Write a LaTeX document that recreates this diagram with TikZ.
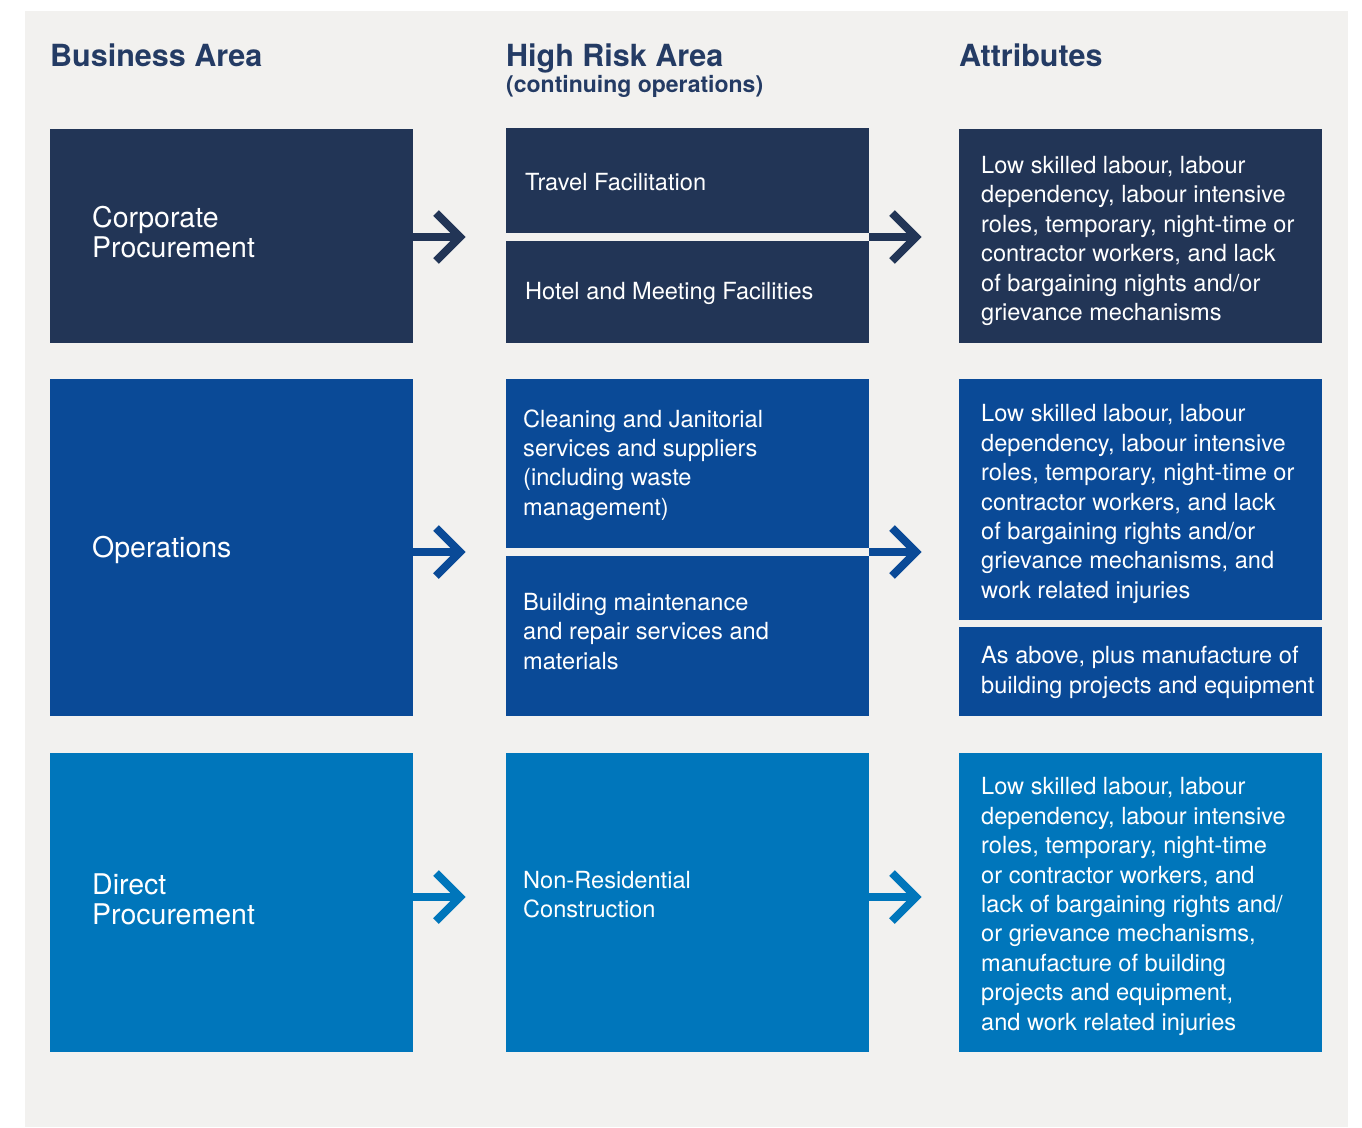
\documentclass[tikz,border=0pt]{standalone}
\usepackage{fontspec}
\setmainfont{TeX Gyre Heros}
\usetikzlibrary{calc}
\definecolor{navy}{HTML}{223556}
\definecolor{bluetwo}{HTML}{0A4A97}
\definecolor{bluethree}{HTML}{0076BB}
\definecolor{bgc}{HTML}{F2F1EF}
\definecolor{headc}{HTML}{243B64}
\begin{document}
\begin{tikzpicture}[x=1pt,y=-1pt,
  box/.style={fill=#1, draw=none, inner sep=0pt, minimum width=363pt, anchor=north west},
  txt/.style={text=white, inner sep=0pt, anchor=west, align=left, font=\fontsize{23.6}{29.4}\selectfont},
  bigtxt/.style={text=white, inner sep=0pt, anchor=west, align=left, font=\fontsize{28.5}{30}\selectfont},
  head/.style={text=headc, inner sep=0pt, anchor=base west, font=\bfseries\fontsize{30.5}{36}\selectfont},
  subhead/.style={text=headc, inner sep=0pt, anchor=base west, font=\bfseries\fontsize{23}{28}\selectfont},
  shaft/.style={draw=#1, line width=8pt},
  chev/.style={draw=#1, line width=8pt, line join=miter, miter limit=10}]
\useasboundingbox (0,0) rectangle (1362,1127);
\fill[white] (0,0) rectangle (1362,1127);
\fill[bgc] (25,11) rectangle (1348,1127);
% headings
\node[head] (hA) at (50,66) {Business Area};
\node[head] (hB) at (506,66) {High Risk Area};
\node[subhead] (hBs) at (506,92) {(continuing operations)};
\node[head] (hC) at (959,66) {Attributes};
% row 1
\node[box=navy, minimum height=214pt] (c1) at (50,129) {};
\node[box=navy, minimum height=105pt] (h1a) at (506,128) {};
\node[box=navy, minimum height=102pt] (h1b) at (506,241) {};
\node[box=navy, minimum height=214pt] (a1) at (959,129) {};
\node[bigtxt] (tc1) at (92,232) {Corporate\\Procurement};
\node[txt] (th1a) at (525,182) {Travel Facilitation};
\node[txt] (th1b) at (525,293.5) {Hotel and Meeting Facilities};
\node[txt] (ta1) at (981,241) {Low skilled labour, labour\\dependency, labour intensive\\roles, temporary, night-time or\\contractor workers, and lack\\of bargaining nights and/or\\grievance mechanisms};
% row 2
\node[box=bluetwo, minimum height=337pt] (c2) at (50,379) {};
\node[box=bluetwo, minimum height=169pt] (h2a) at (506,379) {};
\node[box=bluetwo, minimum height=160pt] (h2b) at (506,556) {};
\node[box=bluetwo, minimum height=241pt] (a2a) at (959,379) {};
\node[box=bluetwo, minimum height=89pt] (a2b) at (959,627) {};
\node[bigtxt] (tc2) at (92,550) {Operations};
\node[txt] (th2a) at (523,465) {Cleaning and Janitorial\\services and suppliers\\(including waste\\management)};
\node[txt] (th2b) at (523,631.5) {Building maintenance\\and repair services and\\materials};
\node[txt] (ta2a) at (981,504) {Low skilled labour, labour\\dependency, labour intensive\\roles, temporary, night-time or\\contractor workers, and lack\\of bargaining rights and/or\\grievance mechanisms, and\\work related injuries};
\node[txt] (ta2b) at (981,672.5) {As above, plus manufacture of\\building projects and equipment};
% row 3
\node[box=bluethree, minimum height=299pt] (c3) at (50,753) {};
\node[box=bluethree, minimum height=299pt] (h3) at (506,753) {};
\node[box=bluethree, minimum height=299pt] (a3) at (959,753) {};
\node[bigtxt] (tc3) at (92,899) {Direct\\Procurement};
\node[txt] (th3) at (523,894.5) {Non-Residential\\Construction};
\node[txt] (ta3) at (981,906.5) {Low skilled labour, labour\\dependency, labour intensive\\roles, temporary, night-time\\or contractor workers, and\\lack of bargaining rights and/\\or grievance mechanisms,\\manufacture of building\\projects and equipment,\\and work related injuries};
% arrows
\coordinate (v1l) at (460,237);
\coordinate (v1r) at (916,237);
\coordinate (v2l) at (460,552);
\coordinate (v2r) at (916,552);
\coordinate (v3l) at (460,897);
\coordinate (v3r) at (916,897);
\draw[shaft=navy] (c1.east |- v1l) -- (v1l);
\draw[chev=navy] ([shift={(-24,-24)}]v1l) -- (v1l) -- ([shift={(-24,24)}]v1l);
\draw[shaft=navy] (h1a.east |- v1r) -- (v1r);
\draw[chev=navy] ([shift={(-24,-24)}]v1r) -- (v1r) -- ([shift={(-24,24)}]v1r);
\draw[shaft=bluetwo] (c2.east |- v2l) -- (v2l);
\draw[chev=bluetwo] ([shift={(-24,-24)}]v2l) -- (v2l) -- ([shift={(-24,24)}]v2l);
\draw[shaft=bluetwo] (h2a.east |- v2r) -- (v2r);
\draw[chev=bluetwo] ([shift={(-24,-24)}]v2r) -- (v2r) -- ([shift={(-24,24)}]v2r);
\draw[shaft=bluethree] (c3.east |- v3l) -- (v3l);
\draw[chev=bluethree] ([shift={(-24,-24)}]v3l) -- (v3l) -- ([shift={(-24,24)}]v3l);
\draw[shaft=bluethree] (h3.east |- v3r) -- (v3r);
\draw[chev=bluethree] ([shift={(-24,-24)}]v3r) -- (v3r) -- ([shift={(-24,24)}]v3r);
\end{tikzpicture}
\end{document}
